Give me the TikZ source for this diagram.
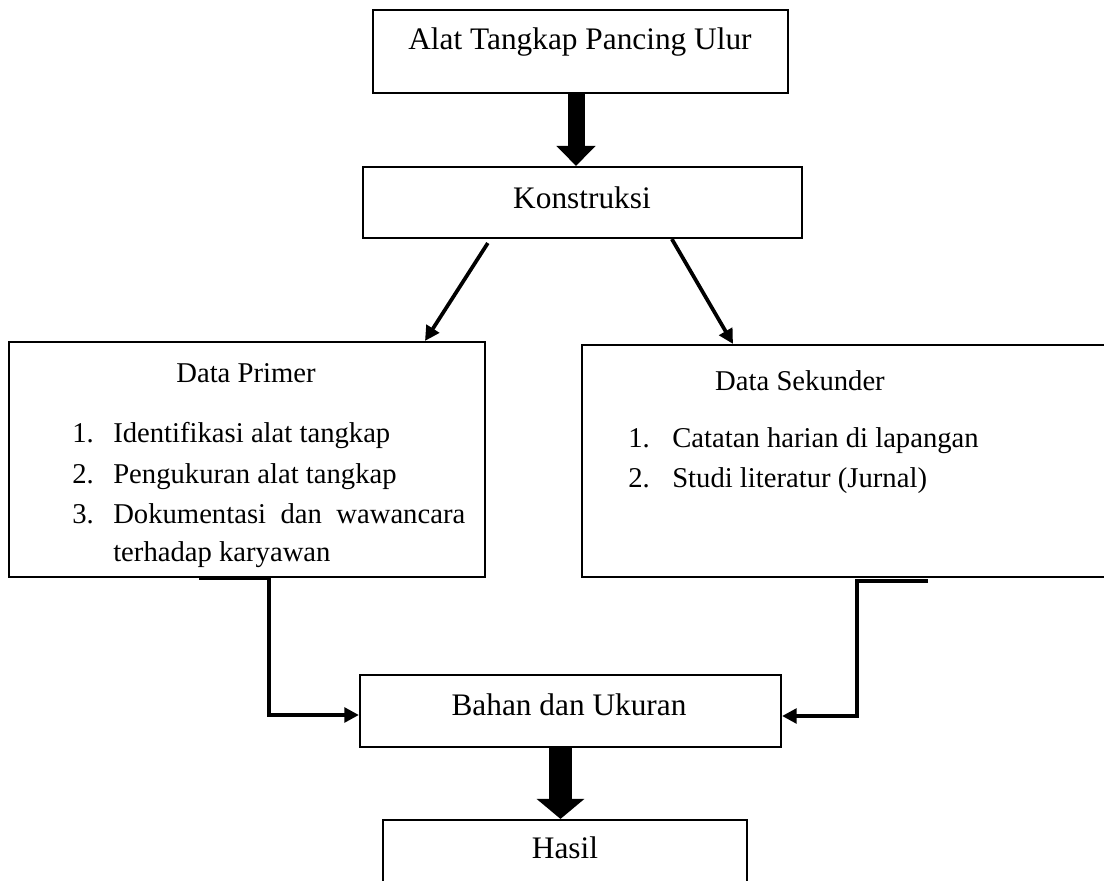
\documentclass[tikz,border=0pt]{standalone}
\usepackage{fontspec}
\setmainfont{Liberation Serif}
\usetikzlibrary{arrows.meta}

\begin{document}
\begin{tikzpicture}[x=0.75pt,y=-0.75pt,
	box/.style={draw, line width=1.6pt, inner sep=0pt},
	txt/.style={inner sep=0pt, font=\fontsize{23.5}{28}\selectfont},
	item/.style={inner sep=0pt, anchor=base west, font=\fontsize{21.5}{26}\selectfont},
	conn/.style={line width=2.8pt, -{Triangle[length=11pt,width=11pt]}},
	bigarrowA/.style={line width=12.75pt, -{Triangle[length=15pt,width=28.5pt]}},
	bigarrowB/.style={line width=17.25pt, -{Triangle[length=15pt,width=35pt]}}]
	\useasboundingbox (0,0) rectangle (1104,881);

	% boxes
	\node[box, minimum width=311.25pt, minimum height=62.25pt] (alat) at (580.5,51.5) {};
	\node[box, minimum width=329.25pt, minimum height=53.25pt] (kons) at (582.5,202.5) {};
	\node[box, minimum width=357pt, minimum height=176.25pt] (primer) at (247,459.5) {};
	\node[box, minimum width=403.5pt, minimum height=174pt] (sekunder) at (851,461) {};
	\node[box, minimum width=315.75pt, minimum height=54pt] (bahan) at (570.5,711) {};
	\node[box, minimum width=273pt, minimum height=60pt] (hasil) at (565,860) {};

	% texts
	\node[txt, anchor=base] (alatTxt) at (580,50) {Alat Tangkap Pancing Ulur};
	\node[txt, anchor=base] (konsTxt) at (582,209) {Konstruksi};
	\node[item, anchor=base] (primerTxt) at (246,382) {Data Primer};
	\node[item] (p1n) at (72,442) {1.};
	\node[item] (p1) at (113,442) {Identifikasi alat tangkap};
	\node[item] (p2n) at (72,483) {2.};
	\node[item] (p2) at (113,483) {Pengukuran alat tangkap};
	\node[item] (p3n) at (72,523) {3.};
	\node[item] (p3) at (113,523) {\makebox[264pt][s]{Dokumentasi dan wawancara}};
	\node[item] (p3b) at (113,561) {terhadap karyawan};
	\node[item, anchor=base] (sekunderTxt) at (800,390) {Data Sekunder};
	\node[item] (s1n) at (628,447) {1.};
	\node[item] (s1) at (672,447) {Catatan harian di lapangan};
	\node[item] (s2n) at (628,487) {2.};
	\node[item] (s2) at (672,487) {Studi literatur (Jurnal)};
	\node[txt, anchor=base] (bahanTxt) at (569,715) {Bahan dan Ukuran};
	\node[txt, anchor=base] (hasilTxt) at (565,858) {Hasil};

	% arrows
	\draw[bigarrowA] ([xshift=-3.375pt]alat.south) -- ([xshift=-4.875pt]kons.north);
	\draw[conn] ([xshift=-71pt,yshift=-3pt]kons.south) -- ([xshift=133.5pt]primer.north);
	\draw[conn] ([xshift=67pt]kons.south) -- ([xshift=-88.5pt]sekunder.north);
	\draw[conn] ([xshift=-36pt]primer.south) -- ([xshift=16.5pt]primer.south) |- ([yshift=-3pt]bahan.west);
	\draw[conn] ([xshift=57.75pt,yshift=-2pt]sekunder.south) -- ([xshift=4.5pt,yshift=-2pt]sekunder.south) |- ([yshift=-3.75pt]bahan.east);
	\draw[bigarrowB] ([xshift=-7.5pt]bahan.south) -- ([xshift=-3.375pt]hasil.north);
\end{tikzpicture}
\end{document}
